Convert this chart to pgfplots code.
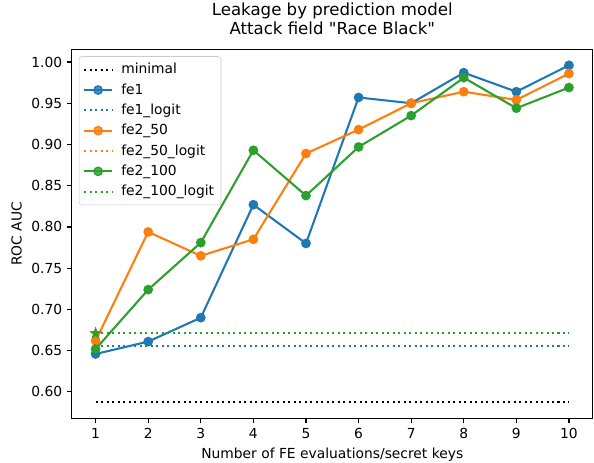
\documentclass[border=0pt]{standalone}
\usepackage{fontspec}
\setmainfont{DejaVu Sans}
\newfontfamily\plaindv{DejaVu Sans}
\usepackage{pgfplots}
\pgfplotsset{compat=1.18}
\usetikzlibrary{calc}

\definecolor{tblue}{HTML}{1F77B4}
\definecolor{torange}{HTML}{FF7F0E}
\definecolor{tgreen}{HTML}{2CA02C}

% filled five-pointed star like matplotlib's '*'
\pgfdeclareplotmark{fstar}{%
  \pgfpathmoveto{\pgfpointpolar{90}{\pgfplotmarksize}}%
  \pgfpathlineto{\pgfpointpolar{126}{0.382*\pgfplotmarksize}}%
  \pgfpathlineto{\pgfpointpolar{162}{\pgfplotmarksize}}%
  \pgfpathlineto{\pgfpointpolar{198}{0.382*\pgfplotmarksize}}%
  \pgfpathlineto{\pgfpointpolar{234}{\pgfplotmarksize}}%
  \pgfpathlineto{\pgfpointpolar{270}{0.382*\pgfplotmarksize}}%
  \pgfpathlineto{\pgfpointpolar{306}{\pgfplotmarksize}}%
  \pgfpathlineto{\pgfpointpolar{342}{0.382*\pgfplotmarksize}}%
  \pgfpathlineto{\pgfpointpolar{18}{\pgfplotmarksize}}%
  \pgfpathlineto{\pgfpointpolar{54}{0.382*\pgfplotmarksize}}%
  \pgfpathclose
  \pgfusepathqfillstroke
}

\tikzset{mpldot/.style={line width=1.5pt, dash pattern=on 1.5pt off 2.475pt}}

\begin{document}
\begin{tikzpicture}
\begin{axis}[
    scale only axis,
    width=375bp, height=266bp,
    xmin=0.55, xmax=10.45,
    ymin=0.5676, ymax=1.0154,
    xtick={1,...,10},
    ytick={0.60,0.65,...,1.001},
    yticklabel style={/pgf/number format/.cd, fixed, fixed zerofill, precision=2},
    /pgf/number format/assume math mode=true,
    tick align=outside,
    xtick pos=bottom, ytick pos=left,
    major tick length=3.5pt,
    tick style={line width=0.8pt, black},
    axis line style={line width=0.8pt},
    ticklabel style={font=\fontsize{10}{12}\selectfont},
    xlabel={Number of FE evaluations/secret keys},
    ylabel={ROC AUC},
    label style={font=\fontsize{10}{12}\selectfont},
    title={Leakage by prediction model\\Attack field {\plaindv"}Race Black{\plaindv"}},
    title style={font=\fontsize{12}{14}\selectfont, align=center, yshift=1pt},
    legend style={at={(0,1)}, anchor=north west, xshift=5pt, yshift=-5pt,
        draw=black!20, rounded corners=2pt, fill=white, fill opacity=0.8,
        text opacity=1, font=\fontsize{10}{12}\selectfont,
        row sep=1.6pt, inner xsep=3pt, inner ysep=3pt,
        /tikz/every odd column/.append style={column sep=4pt}},
    legend cell align=left,
    legend image code/.code={%
        \draw[mark repeat=2, mark phase=2] plot coordinates {(0pt,0pt) (10pt,0pt) (20pt,0pt)};},
    every axis plot/.append style={line width=1.5pt},
]

\addplot[black, mpldot] coordinates {(1,0.588) (10,0.588)};
\addlegendentry{minimal}

\addplot[tblue, mark=*, mark size=3pt, mark options={solid, line width=1pt}] coordinates {
    (1,0.646) (2,0.661) (3,0.690) (4,0.827) (5,0.780)
    (6,0.957) (7,0.950) (8,0.987) (9,0.964) (10,0.996)};
\addlegendentry{fe1}

\addplot[tblue, mpldot] coordinates {(1,0.6557) (10,0.6557)};
\addlegendentry{fe1\_logit}

\addplot[torange, mark=*, mark size=3pt, mark options={solid, line width=1pt}] coordinates {
    (1,0.662) (2,0.794) (3,0.765) (4,0.785) (5,0.889)
    (6,0.918) (7,0.950) (8,0.964) (9,0.954) (10,0.986)};
\addlegendentry{fe2\_50}

\addplot[torange, mpldot] coordinates {(1,0.671) (10,0.671)};
\addlegendentry{fe2\_50\_logit}

\addplot[tgreen, mark=*, mark size=3pt, mark options={solid, line width=1pt}] coordinates {
    (1,0.652) (2,0.724) (3,0.781) (4,0.893) (5,0.838)
    (6,0.897) (7,0.935) (8,0.981) (9,0.944) (10,0.969)};
\addlegendentry{fe2\_100}

\addplot[tgreen, mpldot] coordinates {(1,0.671) (10,0.671)};
\addlegendentry{fe2\_100\_logit}

\addplot[torange, only marks, mark=fstar, mark size=4pt, mark options={line width=0.5pt}, forget plot] coordinates {(1,0.671)};
\addplot[tgreen, only marks, mark=fstar, mark size=4pt, mark options={line width=0.5pt}, forget plot] coordinates {(1,0.671)};

\end{axis}
\pgfresetboundingbox
\path ($(current axis.south west)+(-51.8bp,-31.7bp)$) rectangle ($(current axis.north east)+(1bp,35.5bp)$);
\end{tikzpicture}
\end{document}
